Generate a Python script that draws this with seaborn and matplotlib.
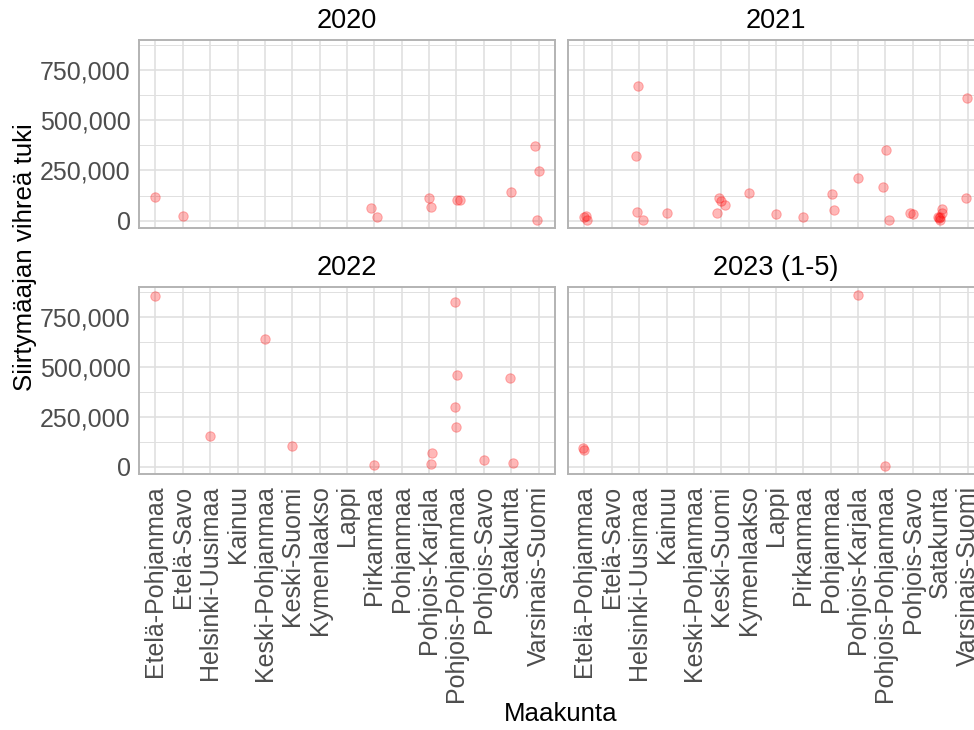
import numpy as np
import pandas as pd
import matplotlib
matplotlib.use("Agg")
import matplotlib.pyplot as plt
from matplotlib.ticker import FuncFormatter, FixedLocator
import seaborn as sns

# ---------------- data ----------------
regions = ["Etelä-Pohjanmaa", "Etelä-Savo", "Helsinki-Uusimaa", "Kainuu",
           "Keski-Pohjanmaa", "Keski-Suomi", "Kymenlaakso", "Lappi",
           "Pirkanmaa", "Pohjanmaa", "Pohjois-Karjala", "Pohjois-Pohjanmaa",
           "Pohjois-Savo", "Satakunta", "Varsinais-Suomi"]
years = ["2020", "2021", "2022", "2023 (1-5)"]

region_2020 = ["Etelä-Pohjanmaa", "Etelä-Savo", "Pirkanmaa", "Pirkanmaa",
               "Pohjois-Karjala", "Pohjois-Karjala", "Pohjois-Pohjanmaa",
               "Pohjois-Pohjanmaa", "Satakunta", "Varsinais-Suomi",
               "Varsinais-Suomi", "Varsinais-Suomi"]
value_2020 = [120000, 23000, 65000, 20000, 113000, 70000, 105000, 101000,
              144000, 247000, 373000, 5000]

region_2021 = ["Etelä-Pohjanmaa", "Etelä-Pohjanmaa", "Etelä-Pohjanmaa",
               "Helsinki-Uusimaa", "Helsinki-Uusimaa", "Helsinki-Uusimaa",
               "Helsinki-Uusimaa", "Kainuu", "Keski-Suomi", "Keski-Suomi",
               "Keski-Suomi", "Keski-Suomi", "Kymenlaakso", "Lappi",
               "Pirkanmaa", "Pohjanmaa", "Pohjanmaa", "Pohjois-Karjala",
               "Pohjois-Pohjanmaa", "Pohjois-Pohjanmaa", "Pohjois-Pohjanmaa",
               "Pohjois-Savo", "Pohjois-Savo", "Satakunta", "Satakunta",
               "Satakunta", "Satakunta", "Satakunta", "Satakunta",
               "Varsinais-Suomi", "Varsinais-Suomi"]
value_2021 = [20000, 23000, 4000, 669000, 324000, 45000, 5000, 38000,
              111000, 100000, 80000, 38000, 139000, 32000, 18000, 133000,
              52000, 211000, 166000, 350000, 2000, 40000, 35000, 57000,
              40000, 20000, 17000, 4000, 14000, 611000, 114000]

region_2022 = ["Etelä-Pohjanmaa", "Helsinki-Uusimaa", "Keski-Pohjanmaa",
               "Keski-Suomi", "Pirkanmaa", "Pohjois-Karjala", "Pohjois-Karjala",
               "Pohjois-Pohjanmaa", "Pohjois-Pohjanmaa", "Pohjois-Pohjanmaa",
               "Pohjois-Pohjanmaa", "Pohjois-Savo", "Satakunta", "Satakunta"]
value_2022 = [853000, 154000, 639000, 106000, 11000, 68000, 16000, 823000,
              457000, 300000, 200000, 35000, 444000, 18000]

region_2023 = ["Etelä-Pohjanmaa", "Etelä-Pohjanmaa", "Pohjois-Karjala",
               "Pohjois-Pohjanmaa"]
value_2023 = [96000, 85000, 861000, 6000]

df = pd.concat([
    pd.DataFrame({"Maakunta": region_2020, "tuki": value_2020, "Vuosi": years[0]}),
    pd.DataFrame({"Maakunta": region_2021, "tuki": value_2021, "Vuosi": years[1]}),
    pd.DataFrame({"Maakunta": region_2022, "tuki": value_2022, "Vuosi": years[2]}),
    pd.DataFrame({"Maakunta": region_2023, "tuki": value_2023, "Vuosi": years[3]}),
], ignore_index=True)

# ---------------- style ----------------
sns.set_theme(style="white")
plt.rcParams["font.family"] = ["Liberation Sans", "DejaVu Sans"]

W, H = 974, 730
fig = plt.figure(figsize=(W / 100, H / 100), dpi=100)
fig.patch.set_facecolor("white")

def rect(x0, y0, x1, y1):
    return [x0 / W, 1 - y1 / H, (x1 - x0) / W, (y1 - y0) / H]

boxes = [rect(139, 40, 555, 228.3), rect(568, 40, 984, 228.3),
         rect(139, 286.7, 555, 474.3), rect(568, 286.7, 984, 474.3)]

grid_col = "#E0E0E0"
border_col = "#B3B3B3"
np.random.seed(7)

for i, (yr, box) in enumerate(zip(years, boxes)):
    ax = fig.add_axes(box)
    sub = df[df["Vuosi"] == yr]
    sns.stripplot(data=sub, x="Maakunta", y="tuki", order=regions, ax=ax,
                  color="#FF0000", alpha=0.28, size=6.8, linewidth=0.7,
                  edgecolor="#FF0000", jitter=0.15, zorder=3)
    ax.set_xlim(-0.6, len(regions) - 0.4)
    ax.set_ylim(-38000, 900000)
    ax.yaxis.set_major_locator(FixedLocator([0, 250000, 500000, 750000]))
    ax.yaxis.set_minor_locator(FixedLocator([125000, 375000, 625000, 875000]))
    ax.yaxis.set_major_formatter(FuncFormatter(lambda v, p: f"{int(v):,}"))
    ax.grid(True, which="major", color=grid_col, linewidth=1.2, zorder=0)
    ax.grid(True, which="minor", axis="y", color=grid_col, linewidth=0.7, zorder=0)
    ax.set_axisbelow(True)
    for s in ax.spines.values():
        s.set_visible(True)
        s.set_color(border_col)
        s.set_linewidth(1.4)
    ax.tick_params(axis="both", which="both", length=0, colors="#4D4D4D",
                   labelsize=18)
    ax.tick_params(axis="y", pad=6)
    ax.tick_params(axis="x", pad=8)
    ax.set_xlabel("")
    ax.set_ylabel("")
    ax.annotate(yr, xy=(0.5, 1), xycoords="axes fraction",
                xytext=(0, 8.4), textcoords="offset points",
                ha="center", va="baseline", fontsize=19.5, color="black")
    if i < 2:
        ax.tick_params(axis="x", labelbottom=False)
    else:
        ax.set_xticks(range(len(regions)))
        ax.set_xticklabels(regions, rotation=90, ha="center", va="top")
    if i % 2 == 1:
        ax.tick_params(axis="y", labelleft=False)

fig.text(561 / W, 1 - 714 / H, "Maakunta", ha="center", va="center",
         fontsize=18.6, color="black")
fig.text(25 / W, 1 - 257 / H, "Siirtymäajan vihreä tuki", ha="center",
         va="center", rotation=90, fontsize=18.6, color="black")

fig.savefig("out.png", dpi=100, facecolor="white")
